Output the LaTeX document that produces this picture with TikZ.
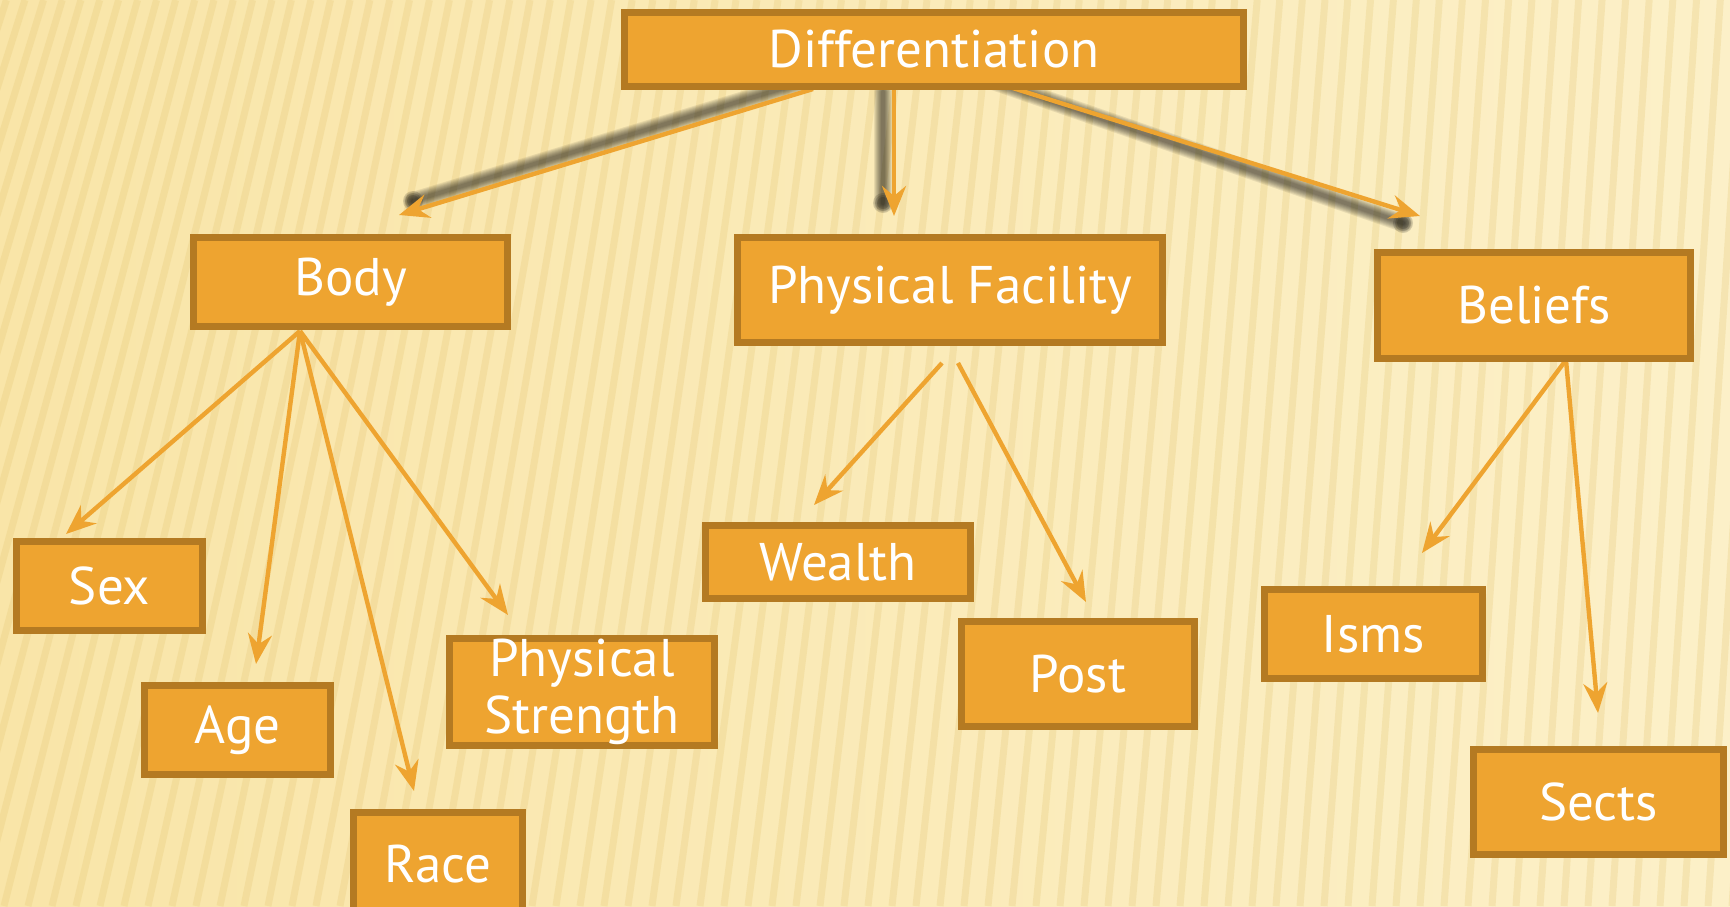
\documentclass[tikz,border=0pt]{standalone}
\usepackage{fontspec}
\setmainfont{PT Sans}
\usetikzlibrary{arrows.meta,calc}
\definecolor{boxfill}{HTML}{EEA430}
\definecolor{boxedge}{HTML}{B47A22}
\definecolor{bgA}{HTML}{F9E5A8}
\definecolor{bgB}{HTML}{FCF0C8}
\definecolor{stripecol}{HTML}{E3C470}
\tikzset{
  box/.style={draw=boxedge, fill=boxfill, line width=3.5pt, text=white,
    font=\fontsize{26.5}{28.5}\selectfont, align=center, inner sep=0pt},
  arr/.style={draw=boxfill, line width=2.2pt,
    -{Stealth[length=15pt,width=12pt,inset=5pt]}},
  shadowline/.style={draw=black, line cap=round},
}
\begin{document}
\begin{tikzpicture}[x=0.5pt,y=-0.5pt]
\useasboundingbox (0,0) rectangle (1730,906);
% background
\shade[left color=bgA, right color=bgB] (0,0) rectangle (1730,906);
\begin{scope}
  \clip (0,0) rectangle (1730,906);
  \foreach \x in {-500,-476,...,1760} {
    \draw[stripecol, line width=3.5pt, opacity=0.26]
      (\x,906) -- ({\x+60+170*(1-\x/1730)*(1-\x/1730)},0);
  }
\end{scope}

% coordinates
\coordinate (dOutL) at (813,89);
\coordinate (dOutM) at (894,88);
\coordinate (dOutR) at (1000,84);
\coordinate (bodyIn) at (399,215);
\coordinate (pfIn) at (894,216);
\coordinate (belIn) at (1420,216);
\coordinate (shL1) at (813,79);  \coordinate (shL2) at (413,201);
\coordinate (shM1) at (883,92);  \coordinate (shM2) at (883,203);
\coordinate (shR1) at (990,80);  \coordinate (shR2) at (1403,223);
\coordinate (bodyOut) at (300,331);
\coordinate (sexIn) at (66,534);
\coordinate (ageIn) at (256,664);
\coordinate (raceIn) at (414,791);
\coordinate (psIn) at (508,615);
\coordinate (pfOutA) at (942,363);
\coordinate (pfOutB) at (958,363);
\coordinate (wealthIn) at (814,505);
\coordinate (postIn) at (1086,602);
\coordinate (belOut) at (1566,360);
\coordinate (ismsIn) at (1422,553);
\coordinate (sectsIn) at (1598,713);

% shadows (soft)
\foreach \a/\b in {shL1/shL2, shM1/shM2, shR1/shR2} {
  \foreach \w in {9,8,7,6,5,4,3,2} {
    \draw[shadowline, line width=\w pt, opacity=0.08] (\a) -- (\b);
  }
  \foreach \r in {5,4,3} {
    \fill[black, opacity=0.15] (\b) circle[radius=\r pt];
  }
}

% arrows
\draw[arr] (dOutL) -- (bodyIn);
\draw[arr] (dOutM) -- (pfIn);
\draw[arr] (dOutR) -- (belIn);
\draw[arr] (bodyOut) -- (sexIn);
\draw[arr] (bodyOut) -- (ageIn);
\draw[arr] (bodyOut) -- (raceIn);
\draw[arr] (bodyOut) -- (psIn);
\draw[arr] (pfOutA) -- (wealthIn);
\draw[arr] (pfOutB) -- (postIn);
\draw[arr] (belOut) -- (ismsIn);
\draw[arr] (belOut) -- (sectsIn);

% boxes
\node[box, minimum width=309.5pt, minimum height=37pt] (diff) at (934,49.5) {Differentiation};
\node[box, minimum width=157pt, minimum height=44.5pt] (body) at (350.5,282) {Body};
\node[box, minimum width=212.5pt, minimum height=52.5pt] (pf) at (950,290) {Physical Facility};
\node[box, minimum width=156.5pt, minimum height=53pt] (beliefs) at (1534,305.5) {Beliefs};
\node[box, minimum width=93pt, minimum height=44.5pt] (sex) at (109.5,586) {Sex};
\node[box, minimum width=93pt, minimum height=44.5pt] (age) at (237.5,730) {Age};
\node[box, minimum width=84.5pt, minimum height=51.5pt] (race) at (438,864) {Race};
\node[box, minimum width=132.5pt, minimum height=53.5pt] (ps) at (582,692) {Physical\\Strength};
\node[box, minimum width=132.5pt, minimum height=36.5pt] (wealth) at (838,562) {Wealth};
\node[box, minimum width=116.5pt, minimum height=52.5pt] (post) at (1078,674) {Post};
\node[box, minimum width=109pt, minimum height=44.5pt] (isms) at (1373.5,634) {Isms};
\node[box, minimum width=125pt, minimum height=52.5pt] (sects) at (1598.5,802) {Sects};
\end{tikzpicture}
\end{document}
